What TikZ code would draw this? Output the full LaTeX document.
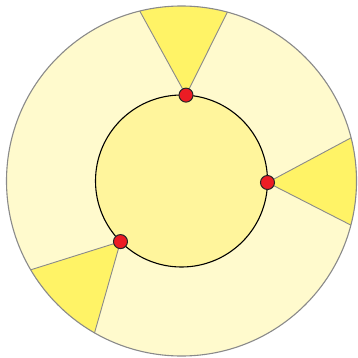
\documentclass[tikz,border=0pt]{standalone}
\usepackage{tikz}
\definecolor{ringfill}{HTML}{FFFACD}
\definecolor{corefill}{HTML}{FFF59C}
\definecolor{wedgefill}{HTML}{FFF366}
\definecolor{rimgray}{HTML}{8A8A8A}
\definecolor{dotred}{HTML}{EC1C24}

\begin{document}
\begin{tikzpicture}[x=1pt,y=1pt,
  rim/.style={draw=rimgray,line width=1.1pt},
  dot/.style={circle,draw=black!85,fill=dotred,inner sep=0pt,minimum size=14pt,line width=1pt}]
\useasboundingbox (0,0) rectangle (358,357);
\coordinate (c) at (181.5,176);
% outer ring
\fill[ringfill] (c) circle (175);
% points where the wedges start, on the inner circle
\foreach \n/\d in {top/87,right/-1,left/224.8}
  \coordinate (p\n) at ([shift={(c)}]\d:86);
% wedges out to the rim
\foreach \n/\a/\b in {top/103.8/74.8,right/14.3/-14.6,left/210.5/240.2}{
  \fill[wedgefill] (p\n) -- ([shift={(c)}]\a:175) arc[start angle=\a,end angle=\b,radius=175] -- cycle;
  \draw[rimgray,line width=0.9pt] ([shift={(c)}]\a:175) -- (p\n) -- ([shift={(c)}]\b:175);
}
\draw[rim] (c) circle (175);
% inner circle
\filldraw[fill=corefill,draw=black,line width=1.1pt] (c) circle (86);
\foreach \n in {top,right,left}
  \node[dot] (d\n) at (p\n) {};
\end{tikzpicture}
\end{document}
